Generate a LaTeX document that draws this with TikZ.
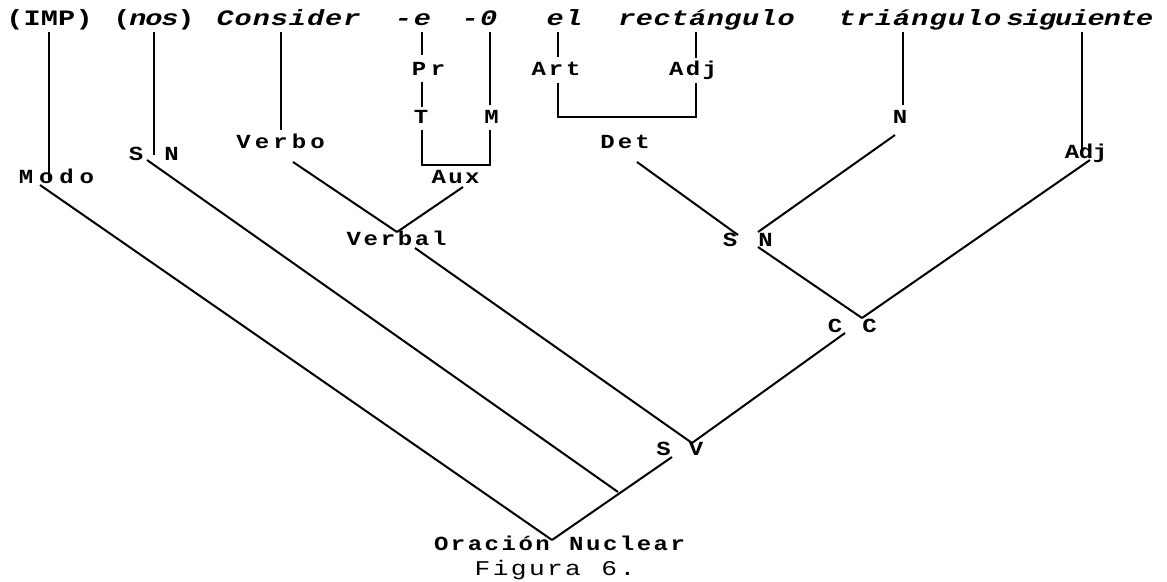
\documentclass[tikz,border=0pt]{standalone}
\usepackage{fontspec}
\usepackage{graphicx}
\newfontfamily\monof{Liberation Mono}
\newlength\cw
\setlength\cw{17.5pt}
\def\hs{1.2}
\def\lsp#1#2{\setlength\cw{#1pt}\lsploop#2\relax}
\def\lsploop#1{\ifx\relax#1\else\makebox[\cw][c]{\scalebox{\hs}[1]{#1}}\expandafter\lsploop\fi}
\begin{document}
\begin{tikzpicture}[x=1pt,y=-1pt,
  ln/.style={line width=2pt},
  word/.style={inner sep=0pt, anchor=base, text depth=7pt, font=\monof\bfseries\itshape\fontsize{22}{22}\selectfont\def\hs{1.3}},
  lab/.style={inner sep=0pt, anchor=base, font=\monof\bfseries\fontsize{20}{20}\selectfont\def\hs{1.2}},
  capt/.style={inner sep=0pt, anchor=base, font=\monof\fontsize{21}{21}\selectfont\def\hs{1.25}}]
\useasboundingbox (0,0) rectangle (1167,581);
\fill[white] (0,0) rectangle (1167,581);

% top words
\node[word, font=\monof\bfseries\fontsize{22}{22}\selectfont\def\hs{1.3}] (wIMP) at (49.5,25) {\lsp{17.3}{(IMP)}};
\node[word] (wNos) at (154,25) {{\upshape\lsp{16}{(}}\lsp{16}{nos}{\upshape\lsp{16}{)}}};
\node[word] (wCons) at (288.5,25) {\lsp{18.1}{Consider}};
\node[word] (wE) at (413,25) {\lsp{19}{-e}};
\node[word] (wO) at (479.5,25) {\lsp{18.5}{-0}};
\node[word] (wEl) at (564.5,25) {\lsp{18.5}{el}};
\node[word] (wRect) at (706.5,25) {\lsp{17.7}{rectángulo}};
\node[word] (wTri) at (920,25) {\lsp{18.2}{triángulo}};
\node[word] (wSig) at (1080,25) {\lsp{16.2}{siguiente}};

% labels
\node[lab] (lModo) at (56.5,183) {\lsp{20.3}{Modo}};
\node[lab] (lS1) at (136,160) {\lsp{17}{S}};
\node[lab] (lN1) at (171.5,160) {\lsp{17}{N}};
\node[lab] (lVerbo) at (280.5,148) {\lsp{18.5}{Verbo}};
\node[lab] (lPr) at (428.5,75) {\lsp{19}{Pr}};
\node[lab] (lT) at (421,123) {\lsp{17}{T}};
\node[lab] (lM) at (491.5,123) {\lsp{17}{M}};
\node[lab] (lAux) at (455.5,183) {\lsp{16.8}{Aux}};
\node[lab] (lArt) at (556,75) {\lsp{17.3}{Art}};
\node[lab] (lAdj1) at (693,75) {\lsp{16.8}{Adj}};
\node[lab] (lDet) at (625,148) {\lsp{17.5}{Det}};
\node[lab] (lN2) at (900,123) {\lsp{17}{N}};
\node[lab] (lAdj2) at (1086,158) {\lsp{14}{Adj}};
\node[lab] (lVerbal) at (396.5,245) {\lsp{17.1}{Verbal}};
\node[lab] (lS2) at (730,246) {\lsp{17}{S}};
\node[lab] (lN3) at (765.5,246) {\lsp{17}{N}};
\node[lab] (lC1) at (835,332) {\lsp{17}{C}};
\node[lab] (lC2) at (869.5,332) {\lsp{17}{C}};
\node[lab] (lS3) at (663.5,455) {\lsp{17}{S}};
\node[lab] (lV) at (696,455) {\lsp{17}{V}};
\node[lab] (lON) at (559.5,550) {\lsp{16.9}{Oración~Nuclear}};
\node[capt] (lFig) at (555,575) {\lsp{18.1}{Figura~6.}};

% junction coordinates
\coordinate (jIMP) at (49,180);
\coordinate (jNos) at (154,155);
\coordinate (jCons) at (281,130);
\coordinate (jE) at (422,55);
\coordinate (pT1) at (422,82);
\coordinate (pT2) at (422,107);
\coordinate (b1) at (422,130);
\coordinate (b2) at (422,165);
\coordinate (b3) at (490,165);
\coordinate (b4) at (490,130);
\coordinate (jO) at (490,105);
\coordinate (jEl) at (558,57);
\coordinate (jRect) at (696,58);
\coordinate (d1) at (558,83);
\coordinate (d2) at (558,117);
\coordinate (d3) at (696,117);
\coordinate (d4) at (696,83);
\coordinate (jTri) at (903,105);
\coordinate (jSig) at (1082,150);

\coordinate (m1) at (40,185);
\coordinate (apex) at (552,540);
\coordinate (s1) at (147,160);
\coordinate (s2) at (618,492);
\coordinate (v1) at (293,162);
\coordinate (vj) at (397,232);
\coordinate (a1) at (463,187);
\coordinate (vb1) at (415,248);
\coordinate (jV) at (692,443);
\coordinate (dt1) at (637,162);
\coordinate (dt2) at (738,235);
\coordinate (n1) at (895,135);
\coordinate (n2) at (758,232);
\coordinate (sn1) at (758,247);
\coordinate (cj) at (862,318);
\coordinate (ad1) at (1090,160);
\coordinate (c1) at (845,333);
\coordinate (s3) at (672,457);

% vertical lines from words
\draw[ln] (wIMP.south -| jIMP) -- (jIMP);
\draw[ln] (wNos.south -| jNos) -- (jNos);
\draw[ln] (wCons.south -| jCons) -- (jCons);
\draw[ln] (wE.south -| jE) -- (jE);
\draw[ln] (pT1) -- (pT2);
\draw[ln] (b1) -- (b2) -- (b3) -- (b4);
\draw[ln] (wO.south -| jO) -- (jO);
\draw[ln] (wEl.south -| jEl) -- (jEl);
\draw[ln] (wRect.south -| jRect) -- (jRect);
\draw[ln] (d1) -- (d2) -- (d3) -- (d4);
\draw[ln] (wTri.south -| jTri) -- (jTri);
\draw[ln] (wSig.south -| jSig) -- (jSig);

% diagonals
\draw[ln] (m1) -- (apex);
\draw[ln] (s1) -- (s2);
\draw[ln] (v1) -- (vj);
\draw[ln] (a1) -- (vj);
\draw[ln] (vb1) -- (jV);
\draw[ln] (dt1) -- (dt2);
\draw[ln] (n1) -- (n2);
\draw[ln] (sn1) -- (cj);
\draw[ln] (ad1) -- (cj);
\draw[ln] (c1) -- (jV);
\draw[ln] (s3) -- (apex);
\end{tikzpicture}
\end{document}
